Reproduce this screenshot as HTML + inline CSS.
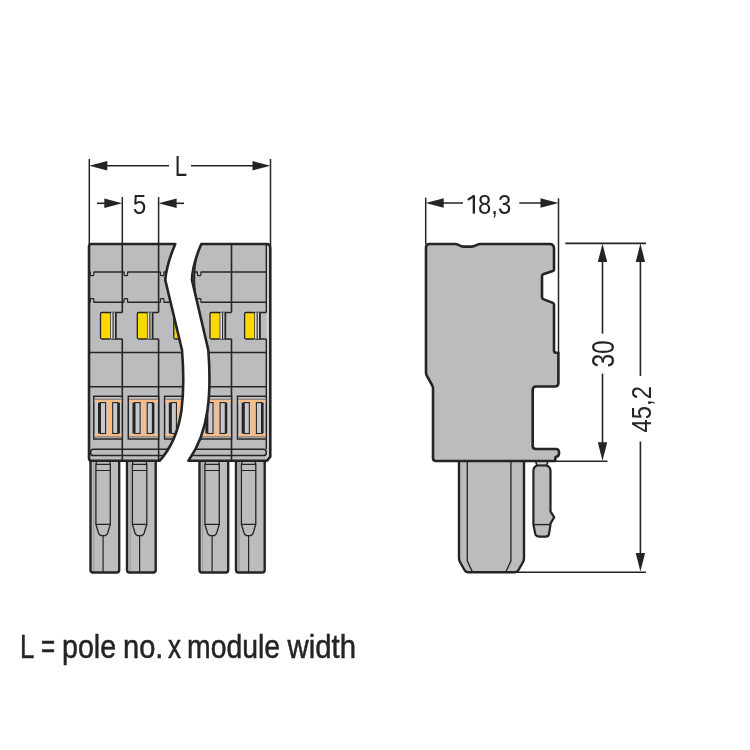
<!DOCTYPE html>
<html><head><meta charset="utf-8"><style>html,body{margin:0;padding:0;background:#fff;}svg{display:block;will-change:transform}</style></head>
<body><svg width="750" height="750" viewBox="0 0 750 750">
<rect width="750" height="750" fill="#fff"/>
<defs>
<clipPath id="cl"><path d="M91.5,460.8 Q89,460.8 89,458.3 L89,246.5 Q89,244 91.5,244 L175.3,244 C170.5,255 166.5,268 165.2,279.8 L182,350 C183.8,372 183.8,392 181.5,410 C179,428 173,446 159.6,460.8 Z"/></clipPath>
<clipPath id="cr"><path d="M201.3,244 L266.5,244 Q270.3,244 270.3,248 L270.3,456.7 L267,460.8 L188.4,460.8 C199,446 205,428 207.5,410 C210,392 210,372 208.3,350 L191.9,279.8 C192.5,268 196.5,255 201.3,244 Z"/></clipPath>
</defs>
<path d="M90.5,461 L90.5,570 Q90.5,572.5 93.0,572.5 L116.7,572.5 Q119.2,572.5 119.2,570 L119.2,461" fill="#bcbcbf" stroke="#242424" stroke-width="2.4"/>
<path d="M96.5,462 L95.9,464.3 L95.9,524.3 L98.5,533 Q99.5,535.7 101.9,535.7 L104.3,535.7 Q106.7,535.7 107.7,533 L110.3,524.3 L110.3,464.3 L109.7,462" fill="#bcbcbf" stroke="#242424" stroke-width="1.3"/>
<path d="M95.9,464.3 L110.3,464.3 M95.9,470.5 L110.3,470.5 M95.9,524.3 L110.3,524.3 M103.1,535.7 L103.1,572" stroke="#242424" stroke-width="1.2" fill="none"/>
<path d="M93.7,462 L93.7,571" stroke="#8a8a8c" stroke-width="0.7" fill="none"/>
<path d="M127,461 L127,570 Q127,572.5 129.5,572.5 L153.2,572.5 Q155.7,572.5 155.7,570 L155.7,461" fill="#bcbcbf" stroke="#242424" stroke-width="2.4"/>
<path d="M133.0,462 L132.4,464.3 L132.4,524.3 L135.0,533 Q136.0,535.7 138.4,535.7 L140.8,535.7 Q143.20000000000002,535.7 144.20000000000002,533 L146.8,524.3 L146.8,464.3 L146.20000000000002,462" fill="#bcbcbf" stroke="#242424" stroke-width="1.3"/>
<path d="M132.4,464.3 L146.8,464.3 M132.4,470.5 L146.8,470.5 M132.4,524.3 L146.8,524.3 M139.60000000000002,535.7 L139.60000000000002,572" stroke="#242424" stroke-width="1.2" fill="none"/>
<path d="M130.2,462 L130.2,571" stroke="#8a8a8c" stroke-width="0.7" fill="none"/>
<path d="M199.5,461 L199.5,570 Q199.5,572.5 202.0,572.5 L225.7,572.5 Q228.2,572.5 228.2,570 L228.2,461" fill="#bcbcbf" stroke="#242424" stroke-width="2.4"/>
<path d="M205.5,462 L204.9,464.3 L204.9,524.3 L207.5,533 Q208.5,535.7 210.9,535.7 L213.3,535.7 Q215.70000000000002,535.7 216.70000000000002,533 L219.3,524.3 L219.3,464.3 L218.70000000000002,462" fill="#bcbcbf" stroke="#242424" stroke-width="1.3"/>
<path d="M204.9,464.3 L219.3,464.3 M204.9,470.5 L219.3,470.5 M204.9,524.3 L219.3,524.3 M212.10000000000002,535.7 L212.10000000000002,572" stroke="#242424" stroke-width="1.2" fill="none"/>
<path d="M202.7,462 L202.7,571" stroke="#8a8a8c" stroke-width="0.7" fill="none"/>
<path d="M236,461 L236,570 Q236,572.5 238.5,572.5 L262.2,572.5 Q264.7,572.5 264.7,570 L264.7,461" fill="#bcbcbf" stroke="#242424" stroke-width="2.4"/>
<path d="M242.0,462 L241.4,464.3 L241.4,524.3 L244.0,533 Q245.0,535.7 247.4,535.7 L249.8,535.7 Q252.20000000000002,535.7 253.20000000000002,533 L255.8,524.3 L255.8,464.3 L255.20000000000002,462" fill="#bcbcbf" stroke="#242424" stroke-width="1.3"/>
<path d="M241.4,464.3 L255.8,464.3 M241.4,470.5 L255.8,470.5 M241.4,524.3 L255.8,524.3 M248.60000000000002,535.7 L248.60000000000002,572" stroke="#242424" stroke-width="1.2" fill="none"/>
<path d="M239.2,462 L239.2,571" stroke="#8a8a8c" stroke-width="0.7" fill="none"/>
<path d="M91.5,460.8 Q89,460.8 89,458.3 L89,246.5 Q89,244 91.5,244 L175.3,244 C170.5,255 166.5,268 165.2,279.8 L182,350 C183.8,372 183.8,392 181.5,410 C179,428 173,446 159.6,460.8 Z" fill="#bcbcbf"/>
<g clip-path="url(#cl)">
<line x1="85" y1="272" x2="190" y2="272" stroke="#242424" stroke-width="1.5"/>
<line x1="85" y1="302.2" x2="190" y2="302.2" stroke="#242424" stroke-width="1.5"/>
<line x1="85" y1="352.5" x2="190" y2="352.5" stroke="#242424" stroke-width="1.5"/>
<line x1="85" y1="386.8" x2="190" y2="386.8" stroke="#242424" stroke-width="1.5"/>
<path d="M190,449.2 L93.3,449.2 C89.6,449.2 89.6,455.6 93.3,455.6 L190,455.6" stroke="#242424" stroke-width="1.5" fill="none"/>
<rect x="90.6" y="270.8" width="2.9" height="2.4" fill="#bcbcbf"/>
<rect x="90.6" y="301" width="2.9" height="2.4" fill="#bcbcbf"/>
<path d="M90.3,272 L90.3,274.8 Q90.3,275.6 91.1,275.6 L93.0,275.6 Q93.8,275.6 93.8,274.8 L93.8,272" stroke="#242424" stroke-width="1.2" fill="#bcbcbf"/>
<path d="M90.3,302.2 L90.3,299.4 Q90.3,298.6 91.1,298.6 L93.0,298.6 Q93.8,298.6 93.8,299.4 L93.8,302.2" stroke="#242424" stroke-width="1.2" fill="#bcbcbf"/>
<rect x="124.39999999999999" y="270.8" width="2.9" height="2.4" fill="#bcbcbf"/>
<rect x="124.39999999999999" y="301" width="2.9" height="2.4" fill="#bcbcbf"/>
<path d="M124.1,272 L124.1,274.8 Q124.1,275.6 124.89999999999999,275.6 L126.8,275.6 Q127.6,275.6 127.6,274.8 L127.6,272" stroke="#242424" stroke-width="1.2" fill="#bcbcbf"/>
<path d="M124.1,302.2 L124.1,299.4 Q124.1,298.6 124.89999999999999,298.6 L126.8,298.6 Q127.6,298.6 127.6,299.4 L127.6,302.2" stroke="#242424" stroke-width="1.2" fill="#bcbcbf"/>
<rect x="160.70000000000002" y="270.8" width="2.9" height="2.4" fill="#bcbcbf"/>
<rect x="160.70000000000002" y="301" width="2.9" height="2.4" fill="#bcbcbf"/>
<path d="M160.4,272 L160.4,274.8 Q160.4,275.6 161.20000000000002,275.6 L163.1,275.6 Q163.9,275.6 163.9,274.8 L163.9,272" stroke="#242424" stroke-width="1.2" fill="#bcbcbf"/>
<path d="M160.4,302.2 L160.4,299.4 Q160.4,298.6 161.20000000000002,298.6 L163.1,298.6 Q163.9,298.6 163.9,299.4 L163.9,302.2" stroke="#242424" stroke-width="1.2" fill="#bcbcbf"/>
<path d="M122.3,244 L122.3,312.5 M122.3,339 L122.3,461" stroke="#242424" stroke-width="1.6" fill="none"/>
<path d="M158.6,244 L158.6,312.5 M158.6,339 L158.6,461" stroke="#242424" stroke-width="1.6" fill="none"/>
<rect x="100.5" y="312.5" width="10.3" height="26.5" rx="1.5" fill="#fbd800" stroke="#242424" stroke-width="1.3"/>
<path d="M110.8,312.5 L122.3,312.5 M110.8,339 L122.3,339" stroke="#242424" stroke-width="1.6" fill="none"/>
<rect x="110.8" y="312.5" width="5" height="26.3" fill="#d9d9db"/>
<path d="M113.1,312.5 L113.1,339" stroke="#242424" stroke-width="1.1" fill="none"/>
<path d="M115.8,312.5 L115.8,339" stroke="#242424" stroke-width="1.8" fill="none"/>
<rect x="93.8" y="396.3" width="28.5" height="42.7" fill="#c9c9cc" stroke="#242424" stroke-width="1.5"/>
<rect x="94.6" y="399.4" width="26.9" height="3.2" fill="#f6bd8b"/>
<rect x="94.6" y="433.5" width="26.9" height="3.2" fill="#f6bd8b"/>
<rect x="107.19999999999999" y="402" width="4.0" height="32" fill="#f6bd8b"/>
<path d="M94.6,399.2 L121.5,399.2 M94.6,436.9 L121.5,436.9" stroke="#555" stroke-width="0.8"/>
<rect x="100.39999999999999" y="402.6" width="5.2" height="30.9" fill="#c9c9cc" stroke="#242424" stroke-width="1.1"/>
<rect x="112.69999999999999" y="402.6" width="5.2" height="30.9" fill="#c9c9cc" stroke="#242424" stroke-width="1.1"/>
<rect x="98.0" y="402.6" width="2.6" height="30.9" fill="#242424"/>
<rect x="117.6" y="402.6" width="2.3" height="30.9" fill="#242424"/>
<rect x="137.3" y="312.5" width="10.3" height="26.5" rx="1.5" fill="#fbd800" stroke="#242424" stroke-width="1.3"/>
<path d="M147.60000000000002,312.5 L158.6,312.5 M147.60000000000002,339 L158.6,339" stroke="#242424" stroke-width="1.6" fill="none"/>
<rect x="147.60000000000002" y="312.5" width="5" height="26.3" fill="#d9d9db"/>
<path d="M149.9,312.5 L149.9,339" stroke="#242424" stroke-width="1.1" fill="none"/>
<path d="M152.60000000000002,312.5 L152.60000000000002,339" stroke="#242424" stroke-width="1.8" fill="none"/>
<rect x="128.3" y="396.3" width="30.299999999999983" height="42.7" fill="#c9c9cc" stroke="#242424" stroke-width="1.5"/>
<rect x="129.10000000000002" y="399.4" width="28.69999999999998" height="3.2" fill="#f6bd8b"/>
<rect x="129.10000000000002" y="433.5" width="28.69999999999998" height="3.2" fill="#f6bd8b"/>
<rect x="141.7" y="402" width="4.0" height="32" fill="#f6bd8b"/>
<path d="M129.10000000000002,399.2 L157.79999999999998,399.2 M129.10000000000002,436.9 L157.79999999999998,436.9" stroke="#555" stroke-width="0.8"/>
<rect x="134.9" y="402.6" width="5.2" height="30.9" fill="#c9c9cc" stroke="#242424" stroke-width="1.1"/>
<rect x="147.2" y="402.6" width="5.2" height="30.9" fill="#c9c9cc" stroke="#242424" stroke-width="1.1"/>
<rect x="132.5" y="402.6" width="2.6" height="30.9" fill="#242424"/>
<rect x="152.1" y="402.6" width="2.3" height="30.9" fill="#242424"/>
<rect x="173.8" y="312.5" width="10.3" height="26.5" rx="1.5" fill="#fbd800" stroke="#242424" stroke-width="1.3"/>
<path d="M184.10000000000002,312.5 L195,312.5 M184.10000000000002,339 L195,339" stroke="#242424" stroke-width="1.6" fill="none"/>
<rect x="184.10000000000002" y="312.5" width="5" height="26.3" fill="#d9d9db"/>
<path d="M186.4,312.5 L186.4,339" stroke="#242424" stroke-width="1.1" fill="none"/>
<path d="M189.10000000000002,312.5 L189.10000000000002,339" stroke="#242424" stroke-width="1.8" fill="none"/>
<rect x="164.6" y="396.3" width="30.400000000000006" height="42.7" fill="#c9c9cc" stroke="#242424" stroke-width="1.5"/>
<rect x="165.4" y="399.4" width="28.800000000000004" height="3.2" fill="#f6bd8b"/>
<rect x="165.4" y="433.5" width="28.800000000000004" height="3.2" fill="#f6bd8b"/>
<rect x="178.0" y="402" width="4.0" height="32" fill="#f6bd8b"/>
<path d="M165.4,399.2 L194.2,399.2 M165.4,436.9 L194.2,436.9" stroke="#555" stroke-width="0.8"/>
<rect x="171.2" y="402.6" width="5.2" height="30.9" fill="#c9c9cc" stroke="#242424" stroke-width="1.1"/>
<rect x="183.5" y="402.6" width="5.2" height="30.9" fill="#c9c9cc" stroke="#242424" stroke-width="1.1"/>
<rect x="168.79999999999998" y="402.6" width="2.6" height="30.9" fill="#242424"/>
<rect x="188.4" y="402.6" width="2.3" height="30.9" fill="#242424"/>
</g>
<path d="M91.5,460.8 Q89,460.8 89,458.3 L89,246.5 Q89,244 91.5,244 L175.3,244 C170.5,255 166.5,268 165.2,279.8 L182,350 C183.8,372 183.8,392 181.5,410 C179,428 173,446 159.6,460.8 Z" fill="none" stroke="#242424" stroke-width="2.6" stroke-linejoin="round"/>
<path d="M201.3,244 L266.5,244 Q270.3,244 270.3,248 L270.3,456.7 L267,460.8 L188.4,460.8 C199,446 205,428 207.5,410 C210,392 210,372 208.3,350 L191.9,279.8 C192.5,268 196.5,255 201.3,244 Z" fill="#bcbcbf"/>
<g clip-path="url(#cr)">
<rect x="266.3" y="246" width="3" height="212" fill="#cdcdcf"/>
<line x1="185" y1="272" x2="266.3" y2="272" stroke="#242424" stroke-width="1.5"/>
<line x1="185" y1="302.2" x2="266.3" y2="302.2" stroke="#242424" stroke-width="1.5"/>
<line x1="185" y1="352.5" x2="266.3" y2="352.5" stroke="#242424" stroke-width="1.5"/>
<line x1="185" y1="386.8" x2="266.3" y2="386.8" stroke="#242424" stroke-width="1.5"/>
<path d="M185,449.2 L263.5,449.2 C267.3,449.2 267.3,455.6 263.5,455.6 L185,455.6" stroke="#242424" stroke-width="1.5" fill="none"/>
<rect x="197.70000000000002" y="270.8" width="2.9" height="2.4" fill="#bcbcbf"/>
<rect x="197.70000000000002" y="301" width="2.9" height="2.4" fill="#bcbcbf"/>
<path d="M197.4,272 L197.4,274.8 Q197.4,275.6 198.20000000000002,275.6 L200.1,275.6 Q200.9,275.6 200.9,274.8 L200.9,272" stroke="#242424" stroke-width="1.2" fill="#bcbcbf"/>
<path d="M197.4,302.2 L197.4,299.4 Q197.4,298.6 198.20000000000002,298.6 L200.1,298.6 Q200.9,298.6 200.9,299.4 L200.9,302.2" stroke="#242424" stroke-width="1.2" fill="#bcbcbf"/>
<path d="M231.5,244 L231.5,312.5 M231.5,339 L231.5,461" stroke="#242424" stroke-width="1.6" fill="none"/>
<path d="M266.3,244 L266.3,312.5 M266.3,339 L266.3,449.2" stroke="#242424" stroke-width="1.4" fill="none"/>
<rect x="210" y="312.5" width="10.3" height="26.5" rx="1.5" fill="#fbd800" stroke="#242424" stroke-width="1.3"/>
<path d="M220.3,312.5 L231.5,312.5 M220.3,339 L231.5,339" stroke="#242424" stroke-width="1.6" fill="none"/>
<rect x="220.3" y="312.5" width="5" height="26.3" fill="#d9d9db"/>
<path d="M222.6,312.5 L222.6,339" stroke="#242424" stroke-width="1.1" fill="none"/>
<path d="M225.3,312.5 L225.3,339" stroke="#242424" stroke-width="1.8" fill="none"/>
<rect x="201.2" y="396.3" width="30.30000000000001" height="42.7" fill="#c9c9cc" stroke="#242424" stroke-width="1.5"/>
<rect x="202.0" y="399.4" width="28.70000000000001" height="3.2" fill="#f6bd8b"/>
<rect x="202.0" y="433.5" width="28.70000000000001" height="3.2" fill="#f6bd8b"/>
<rect x="214.6" y="402" width="4.0" height="32" fill="#f6bd8b"/>
<path d="M202.0,399.2 L230.7,399.2 M202.0,436.9 L230.7,436.9" stroke="#555" stroke-width="0.8"/>
<rect x="207.79999999999998" y="402.6" width="5.2" height="30.9" fill="#c9c9cc" stroke="#242424" stroke-width="1.1"/>
<rect x="220.1" y="402.6" width="5.2" height="30.9" fill="#c9c9cc" stroke="#242424" stroke-width="1.1"/>
<rect x="205.39999999999998" y="402.6" width="2.6" height="30.9" fill="#242424"/>
<rect x="225.0" y="402.6" width="2.3" height="30.9" fill="#242424"/>
<rect x="244.6" y="312.5" width="10.3" height="26.5" rx="1.5" fill="#fbd800" stroke="#242424" stroke-width="1.3"/>
<path d="M254.9,312.5 L266.3,312.5 M254.9,339 L266.3,339" stroke="#242424" stroke-width="1.6" fill="none"/>
<rect x="254.9" y="312.5" width="5" height="26.3" fill="#d9d9db"/>
<path d="M257.2,312.5 L257.2,339" stroke="#242424" stroke-width="1.1" fill="none"/>
<path d="M259.9,312.5 L259.9,339" stroke="#242424" stroke-width="1.8" fill="none"/>
<rect x="237.5" y="396.3" width="28.80000000000001" height="42.7" fill="#c9c9cc" stroke="#242424" stroke-width="1.5"/>
<rect x="238.3" y="399.4" width="27.20000000000001" height="3.2" fill="#f6bd8b"/>
<rect x="238.3" y="433.5" width="27.20000000000001" height="3.2" fill="#f6bd8b"/>
<rect x="250.9" y="402" width="4.0" height="32" fill="#f6bd8b"/>
<path d="M238.3,399.2 L265.5,399.2 M238.3,436.9 L265.5,436.9" stroke="#555" stroke-width="0.8"/>
<rect x="244.1" y="402.6" width="5.2" height="30.9" fill="#c9c9cc" stroke="#242424" stroke-width="1.1"/>
<rect x="256.4" y="402.6" width="5.2" height="30.9" fill="#c9c9cc" stroke="#242424" stroke-width="1.1"/>
<rect x="241.7" y="402.6" width="2.6" height="30.9" fill="#242424"/>
<rect x="261.3" y="402.6" width="2.3" height="30.9" fill="#242424"/>
</g>
<path d="M201.3,244 L266.5,244 Q270.3,244 270.3,248 L270.3,456.7 L267,460.8 L188.4,460.8 C199,446 205,428 207.5,410 C210,392 210,372 208.3,350 L191.9,279.8 C192.5,268 196.5,255 201.3,244 Z" fill="none" stroke="#242424" stroke-width="2.6" stroke-linejoin="round"/>
<path d="M197.6,254 C195.2,262 194.6,272 194.6,280 C194.6,288 195.6,296 197.8,305 L192.8,284 L191.9,279.8 C192.2,272 193.5,264 197.6,254 Z" fill="#3c3c3e" stroke="#242424" stroke-width="1.2"/>
<line x1="89.3" y1="159" x2="89.3" y2="244" stroke="#242424" stroke-width="1.5"/>
<line x1="270.5" y1="159" x2="270.5" y2="246" stroke="#242424" stroke-width="1.5"/>
<line x1="95" y1="165.7" x2="169" y2="165.7" stroke="#242424" stroke-width="1.6"/>
<line x1="191" y1="165.7" x2="265" y2="165.7" stroke="#242424" stroke-width="1.6"/>
<path d="M89.3,165.7 L107.3,161.0 L107.3,170.39999999999998 Z" fill="#242424"/>
<path d="M270.5,165.7 L252.5,161.0 L252.5,170.39999999999998 Z" fill="#242424"/>
<line x1="122.3" y1="197" x2="122.3" y2="245" stroke="#242424" stroke-width="1.5"/>
<line x1="158.6" y1="197" x2="158.6" y2="245" stroke="#242424" stroke-width="1.5"/>
<line x1="97" y1="203.3" x2="110" y2="203.3" stroke="#242424" stroke-width="1.6"/>
<line x1="170" y1="203.3" x2="184" y2="203.3" stroke="#242424" stroke-width="1.6"/>
<path d="M122.3,203.3 L104.3,198.60000000000002 L104.3,208.0 Z" fill="#242424"/>
<path d="M158.6,203.3 L176.6,198.60000000000002 L176.6,208.0 Z" fill="#242424"/>
<path d="M459,461 L459,558 Q459,560.5 460.3,562.5 L464.5,570 Q465.7,572.3 468.5,572.3 L514.5,572.3 Q517.3,572.3 518.5,570 L522.7,562.5 Q524,560.5 524,558 L524,461" fill="#bcbcbf" stroke="#242424" stroke-width="2.4"/>
<path d="M467.3,461 L467.3,561 L472.5,572 M510.9,461 L510.9,561 L505.7,572" stroke="#242424" stroke-width="1.3" fill="none"/>
<path d="M535.2,460 L537,465.5 L546.6,465.5 L548.4,460 Z" fill="#d2d2d4" stroke="#242424" stroke-width="1.6" stroke-linejoin="round"/>
<path d="M537,465.5 Q533.4,467 533.4,471 L533.4,524.6 L535.3,534 Q536,536.6 539.5,536.6 L545.5,536.6 Q548.6,536.6 549,534 L550.5,524.6 L550.5,523.4 L554.2,517.4 L550.5,511.4 L550.5,471 Q550.5,467 546.6,465.5 Z" fill="#bcbcbf" stroke="#242424" stroke-width="2.2" stroke-linejoin="round"/>
<path d="M533.4,524.6 L550.5,524.6" stroke="#242424" stroke-width="1.4" fill="none"/>
<path d="M426,247.5 Q426,244 429.5,244 L455,244 C458.5,244 459.5,246.6 463.5,246.6 L471.5,246.6 C475.5,246.6 476.5,244 480.5,244 L549.5,244 Q554,244 554,248.5 L554,269.5 Q554,270.7 552.8,271.1 L543.2,274.2 Q542,274.7 542,276 L542,297.3 Q542,298.6 543.2,299.1 L552.8,302.9 Q554,303.4 554,304.6 L554,350.5 Q554,352.7 556.2,352.7 L558.4,352.7 L558.4,383 Q558.4,386.5 555,386.5 L536,386.5 Q532.7,386.5 532.7,390 L532.7,446 Q532.7,449 536,449 L556.5,449 C560,449 560,456.7 556,456.7 Q555.3,456.7 555.3,458 L555.3,461 L436,461 Q433,461 433,458 L433,388.5 Q433,386.5 432,385 L427,376 Q426,374.5 426,372.5 Z" fill="#bcbcbf" stroke="#242424" stroke-width="2.6" stroke-linejoin="round"/>
<line x1="425.7" y1="197.7" x2="425.7" y2="244" stroke="#242424" stroke-width="1.5"/>
<line x1="558.5" y1="198.3" x2="558.5" y2="352.7" stroke="#242424" stroke-width="1.5"/>
<line x1="430" y1="203" x2="463" y2="203" stroke="#242424" stroke-width="1.6"/>
<line x1="519.3" y1="203" x2="553" y2="203" stroke="#242424" stroke-width="1.6"/>
<path d="M425.7,203 L443.7,198.3 L443.7,207.7 Z" fill="#242424"/>
<path d="M558.5,203 L540.5,198.3 L540.5,207.7 Z" fill="#242424"/>
<line x1="565.3" y1="243.4" x2="646" y2="243.4" stroke="#242424" stroke-width="1.6"/>
<line x1="555" y1="461.3" x2="607.4" y2="461.3" stroke="#242424" stroke-width="1.5"/>
<line x1="516" y1="572.2" x2="646" y2="572.2" stroke="#242424" stroke-width="1.5"/>
<line x1="602.5" y1="250" x2="602.5" y2="333.6" stroke="#242424" stroke-width="1.6"/>
<line x1="602.5" y1="373.6" x2="602.5" y2="455" stroke="#242424" stroke-width="1.6"/>
<path d="M602.5,243.6 L597.8,262.1 L607.2,262.1 Z" fill="#242424"/>
<path d="M602.5,460.8 L597.8,442.3 L607.2,442.3 Z" fill="#242424"/>
<line x1="640.4" y1="250" x2="640.4" y2="376" stroke="#242424" stroke-width="1.6"/>
<line x1="640.4" y1="441.5" x2="640.4" y2="565" stroke="#242424" stroke-width="1.6"/>
<path d="M640.4,243.6 L635.6999999999999,262.1 L645.1,262.1 Z" fill="#242424"/>
<path d="M640.4,571.5 L635.6999999999999,553.0 L645.1,553.0 Z" fill="#242424"/>

<text x="174.8" y="176" textLength="12.4" lengthAdjust="spacingAndGlyphs" style="font-family:'Liberation Sans',sans-serif;fill:#242424;font-size:29px">L</text>
<text x="132.8" y="213.7" textLength="13.6" lengthAdjust="spacingAndGlyphs" style="font-family:'Liberation Sans',sans-serif;fill:#242424;font-size:27px">5</text>
<path d="M467.8,199.9 L473.9,195.8" stroke="#242424" stroke-width="2.1" fill="none"/><rect x="472.7" y="195.2" width="2.3" height="18.4" fill="#242424"/>
<text x="478.1" y="213.6" textLength="33.2" lengthAdjust="spacingAndGlyphs" style="font-family:'Liberation Sans',sans-serif;fill:#242424;font-size:27px">8,3</text>
<text x="0" y="0" transform="translate(613.5,367.6) rotate(-90)" textLength="27.4" lengthAdjust="spacingAndGlyphs" style="font-family:'Liberation Sans',sans-serif;fill:#242424;font-size:31px">30</text>
<text x="0" y="0" transform="translate(650.8,432.4) rotate(-90)" textLength="46.4" lengthAdjust="spacingAndGlyphs" style="font-family:'Liberation Sans',sans-serif;fill:#242424;font-size:28.5px">45,2</text>
<text x="20.0" y="658.3" textLength="14.4" lengthAdjust="spacingAndGlyphs" style="font-family:'Liberation Sans',sans-serif;fill:#242424;font-size:34px;stroke:#242424;stroke-width:0.5">L</text>
<text x="41.0" y="658.3" textLength="14.12" lengthAdjust="spacingAndGlyphs" style="font-family:'Liberation Sans',sans-serif;fill:#242424;font-size:34px;stroke:#242424;stroke-width:0.5">=</text>
<text x="62.0" y="658.3" textLength="54.13" lengthAdjust="spacingAndGlyphs" style="font-family:'Liberation Sans',sans-serif;fill:#242424;font-size:34px;stroke:#242424;stroke-width:0.5">pole</text>
<text x="123.0" y="658.3" textLength="40.39" lengthAdjust="spacingAndGlyphs" style="font-family:'Liberation Sans',sans-serif;fill:#242424;font-size:34px;stroke:#242424;stroke-width:0.5">no.</text>
<text x="168.0" y="658.3" textLength="13.03" lengthAdjust="spacingAndGlyphs" style="font-family:'Liberation Sans',sans-serif;fill:#242424;font-size:34px;stroke:#242424;stroke-width:0.5">x</text>
<text x="187.0" y="658.3" textLength="93.08" lengthAdjust="spacingAndGlyphs" style="font-family:'Liberation Sans',sans-serif;fill:#242424;font-size:34px;stroke:#242424;stroke-width:0.5">module</text>
<text x="287.5" y="658.3" textLength="68.53" lengthAdjust="spacingAndGlyphs" style="font-family:'Liberation Sans',sans-serif;fill:#242424;font-size:34px;stroke:#242424;stroke-width:0.5">width</text>


</svg></body></html>
